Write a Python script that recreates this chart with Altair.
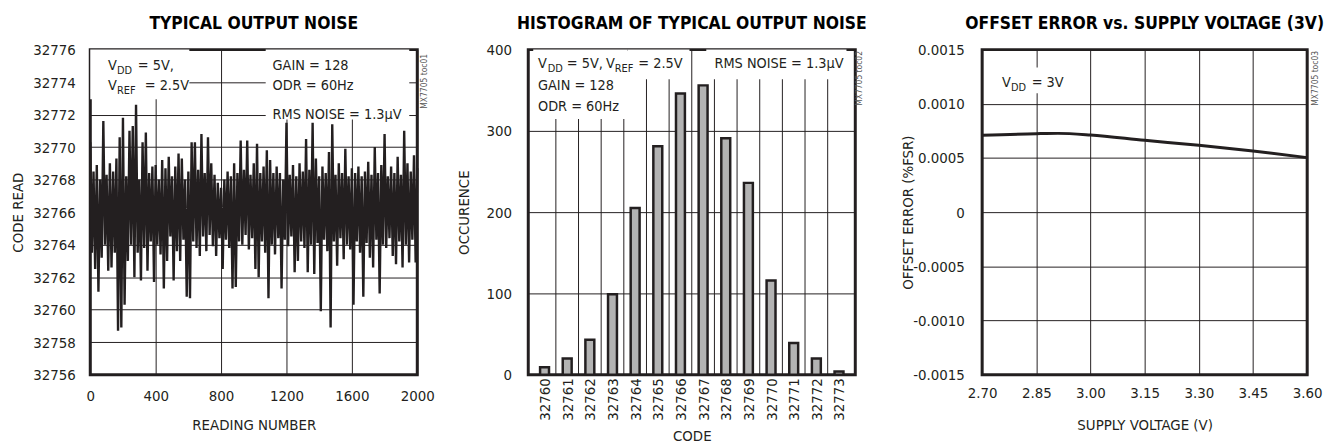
import altair as alt
import pandas as pd

FONT = "'Liberation Sans Narrow', 'Arial Narrow', 'DejaVu Sans Condensed', sans-serif"
TXT = "#231f20"

# ---------------- Panel 1: typical output noise ----------------
readings = list(range(0, 2001, 10))
noise_code = [
    32770.3, 32763.5, 32768.5, 32762.5, 32768.9, 32761.1, 32768.0, 32763.2, 32771.6, 32764.0,
    32768.3, 32762.4, 32769.0, 32762.6, 32768.5, 32763.5, 32769.3, 32758.7, 32770.6, 32758.9,
    32771.8, 32760.3, 32768.2, 32763.0, 32771.0, 32764.0, 32771.3, 32762.0, 32772.6, 32763.5,
    32768.0, 32761.8, 32770.3, 32763.8, 32770.9, 32762.4, 32768.4, 32764.2, 32768.8, 32761.7,
    32768.9, 32764.0, 32768.0, 32763.4, 32769.2, 32761.3, 32768.7, 32763.0, 32769.4, 32764.5,
    32768.2, 32761.8, 32768.8, 32763.6, 32769.6, 32763.0, 32769.3, 32764.3, 32768.0, 32760.8,
    32768.5, 32760.7, 32770.3, 32764.2, 32770.3, 32763.8, 32768.6, 32763.3, 32770.8, 32764.5,
    32768.4, 32763.6, 32770.6, 32764.6, 32769.0, 32763.9, 32768.3, 32763.3, 32767.8, 32764.4,
    32767.5, 32762.5, 32768.0, 32764.3, 32768.5, 32763.8, 32768.2, 32761.3, 32769.0, 32761.4,
    32768.4, 32764.2, 32770.4, 32764.0, 32768.6, 32764.6, 32770.4, 32763.7, 32768.3, 32764.4,
    32769.0, 32762.5, 32770.2, 32762.0, 32768.4, 32764.2, 32768.8, 32763.5, 32769.8, 32760.7,
    32769.2, 32764.0, 32768.4, 32763.4, 32768.8, 32764.4, 32768.4, 32761.3, 32768.0, 32764.3,
    32771.5, 32763.9, 32768.3, 32764.5, 32768.9, 32762.3, 32768.2, 32763.0, 32769.0, 32764.2,
    32768.5, 32763.8, 32770.5, 32762.3, 32768.6, 32764.0, 32771.5, 32762.2, 32769.3, 32764.1,
    32768.2, 32759.9, 32768.8, 32764.3, 32768.4, 32763.6, 32769.7, 32758.9, 32771.4, 32764.2,
    32768.3, 32762.7, 32769.0, 32764.4, 32768.4, 32763.1, 32769.9, 32764.0, 32768.2, 32763.7,
    32768.7, 32760.3, 32768.4, 32764.2, 32768.8, 32763.5, 32768.2, 32760.8, 32768.5, 32764.1,
    32769.1, 32763.2, 32768.3, 32762.6, 32770.0, 32764.3, 32768.4, 32761.0, 32768.9, 32764.0,
    32770.8, 32763.8, 32768.2, 32764.4, 32768.8, 32763.3, 32768.4, 32762.8, 32769.4, 32764.2,
    32768.3, 32762.6, 32771.0, 32764.0, 32769.0, 32762.9, 32768.5, 32764.3, 32769.5, 32762.9,
    32768.7,
]
p1_x_ticks = [0, 400, 800, 1200, 1600, 2000]
p1_y_ticks = list(range(32756, 32777, 2))

p1_main_text = ["V", "= 5V,", "V", "= 2.5V", "GAIN = 128", "ODR = 60Hz", "RMS NOISE = 1.3\u00b5V"]
p1_main_x = [109, 291, 109, 333, 1115, 1115, 1115]
p1_main_y = [32774.96, 32774.96, 32773.74, 32773.74, 32774.96, 32773.74, 32771.98]
p1_sub_text = ["DD", "REF"]
p1_sub_x = [164, 164]
p1_sub_y = [32774.96, 32773.74]
p1_box_x = [0, 1073]
p1_box_x2 = [606, 1951]
p1_box_y = [32772.95, 32771.7]
p1_box_y2 = [32776, 32776]

# ---------------- Panel 2: histogram ----------------
hist_code = [32760, 32761, 32762, 32763, 32764, 32765, 32766, 32767, 32768, 32769, 32770, 32771, 32772, 32773]
hist_count = [9, 20, 43, 99, 205, 281, 346, 356, 291, 236, 116, 39, 20, 4]
hist_grid = [32760.5, 32761.5, 32762.5, 32763.5, 32764.5, 32765.5, 32766.5,
             32767.5, 32768.5, 32769.5, 32770.5, 32771.5, 32772.5]
p2_y_ticks = [0, 100, 200, 300, 400]
p2_main_text = ["V", "= 5V,", "V", "= 2.5V", "GAIN = 128", "ODR = 60Hz"]
p2_main_x = [32759.71, 32760.98, 32762.71, 32764.14, 32759.71, 32759.71]
p2_main_y = [381.7, 381.7, 381.7, 381.7, 354.9, 329.3]
p2_sub_text = ["DD", "REF"]
p2_sub_x = [32760.14, 32763.10]
p2_sub_y = [381.7, 381.7]
p2_right_text = ["RMS NOISE = 1.3\u00b5V"]
p2_right_x = [32773.2]
p2_right_y = [381.7]
p2_box_x = [32759.5, 32763.66, 32767.14]
p2_box_x2 = [32763.66, 32766.40, 32773.33]
p2_box_y = [314.6, 363.4, 363.4]
p2_box_y2 = [400, 400, 400]

# ---------------- Panel 3: offset error vs supply ----------------
supply_v = [2.70, 2.85, 2.91, 3.00, 3.15, 3.30, 3.45, 3.60]
offset_err = [0.000709, 0.000724, 0.000727, 0.000712, 0.000663, 0.000617, 0.000564, 0.000503]
p3_x_ticks = [2.70, 2.85, 3.00, 3.15, 3.30, 3.45, 3.60]
p3_y_ticks = [-0.0015, -0.0010, -0.0005, 0.0, 0.0005, 0.0010, 0.0015]
p3_main_text = ["V", "= 3V"]
p3_main_x = [2.7549, 2.8372]
p3_main_y = [0.00119, 0.00119]
p3_sub_text = ["DD"]
p3_sub_x = [2.7796]
p3_sub_y = [0.00119]
p3_box_x = [2.7384]
p3_box_x2 = [2.925]
p3_box_y = [0.0010976]
p3_box_y2 = [0.001335]

code_labels = ["MX7705 toc01", "MX7705 toc02", "MX7705 toc03"]
code_label_x = [2042, 32773.88, 3.622]
code_label_y = [32774.05, 364.6, 0.001235]

W1, W2, W3, H = 330, 330, 328, 328
GAP12, GAP23 = 112, 128
FS = 14.5   # annotation font size
SUB = 11    # subscript font size


def xenc(field, domain, values, title, fmt, lpad, ext, tpad, angle=0, grid=True, lexpr=None):
    ax = dict(values=values, title=title, format=fmt, labelPadding=lpad, minExtent=ext,
              maxExtent=ext, titlePadding=tpad, labelAngle=angle, grid=grid, labelFlush=False)
    if lexpr:
        ax["labelExpr"] = lexpr
    return alt.X(f"{field}:Q", scale=alt.Scale(domain=domain, nice=False, zero=False), axis=alt.Axis(**ax))


def yenc(field, domain, values, title, fmt, lpad, ext, tpad, lexpr=None):
    ax = dict(values=values, title=title, format=fmt, labelPadding=lpad, minExtent=ext,
              maxExtent=ext, titlePadding=tpad, labelFlush=False)
    if lexpr:
        ax["labelExpr"] = lexpr
    return alt.Y(f"{field}:Q", scale=alt.Scale(domain=domain, nice=False, zero=False), axis=alt.Axis(**ax))


def text_layer(xs, ys, texts, X, Y, size=FS, dy=0, align="left", angle=0, color=TXT):
    df = pd.DataFrame({"x": xs, "y": ys, "t": texts})
    kw = dict(font=FONT, fontSize=size, dy=dy, align=align, baseline="middle", color=color)
    if angle:
        kw["angle"] = angle
    return alt.Chart(df).mark_text(**kw).encode(x=X("x"), y=Y("y"), text="t:N")


def box_layer(x, x2, y, y2, X, Y):
    df = pd.DataFrame({"x": x, "x2": x2, "y": y, "y2": y2})
    return alt.Chart(df).mark_rect(fill="white").encode(x=X("x"), x2="x2", y=Y("y"), y2="y2")


def spacer(w):
    df = pd.DataFrame({"a": [0]})
    return alt.Chart(df).mark_point(opacity=0).encode(
        x=alt.X("a:Q", axis=None), y=alt.Y("a:Q", axis=None)
    ).properties(width=w, height=H, view=alt.ViewBackground(strokeOpacity=0))


TITLE_KW = dict(offset=10, frame="group")

# Panel 1
X1 = lambda f: xenc(f, [0, 2000], p1_x_ticks, "READING NUMBER", "d", 14, 30, 13)
Y1 = lambda f: yenc(f, [32756, 32776], p1_y_ticks, "CODE READ", "d", 15, 50, 15)
df1 = pd.DataFrame({"x": readings, "y": noise_code})
p1 = alt.layer(
    box_layer(p1_box_x, p1_box_x2, p1_box_y, p1_box_y2, X1, Y1),
    alt.Chart(df1).mark_line(color=TXT, strokeWidth=2.4, strokeJoin="bevel").encode(x=X1("x"), y=Y1("y")),
    text_layer(p1_main_x, p1_main_y, p1_main_text, X1, Y1),
    text_layer(p1_sub_x, p1_sub_y, p1_sub_text, X1, Y1, SUB, dy=5),
    text_layer([code_label_x[0]], [code_label_y[0]], [code_labels[0]], X1, Y1, 8.5, align="center", angle=270, color="#555"),
).properties(width=W1, height=H, title=alt.Title("TYPICAL OUTPUT NOISE", **TITLE_KW))

# Panel 2
X2 = lambda f: xenc(f, [32759.5, 32773.5], hist_code, "CODE", "d", 3, 48, 6, angle=270, grid=False)
Y2 = lambda f: yenc(f, [0, 400], p2_y_ticks, "OCCURENCE", "d", 17, 45, 12)
df2 = pd.DataFrame({"x": hist_code, "y": hist_count})
dfg = pd.DataFrame({"x": hist_grid})
p2 = alt.layer(
    alt.Chart(dfg).mark_rule(color=TXT, strokeWidth=1).encode(x=X2("x")),
    box_layer(p2_box_x, p2_box_x2, p2_box_y, p2_box_y2, X2, Y2),
    alt.Chart(df2).mark_bar(size=9, fill="#b3b3b3", stroke=TXT, strokeWidth=2.5).encode(x=X2("x"), y=Y2("y")),
    text_layer(p2_main_x, p2_main_y, p2_main_text, X2, Y2),
    text_layer(p2_sub_x, p2_sub_y, p2_sub_text, X2, Y2, SUB, dy=5),
    text_layer(p2_right_x, p2_right_y, p2_right_text, X2, Y2, align="right"),
    text_layer([code_label_x[1]], [code_label_y[1]], [code_labels[1]], X2, Y2, 8.5, align="center", angle=270, color="#555"),
).properties(width=W2, height=H, title=alt.Title("HISTOGRAM OF TYPICAL OUTPUT NOISE", **TITLE_KW))

# Panel 3
X3 = lambda f: xenc(f, [2.7, 3.6], p3_x_ticks, "SUPPLY VOLTAGE (V)", ".2f", 11, 30, 13)
Y3 = lambda f: yenc(f, [-0.0015, 0.0015], p3_y_ticks, "OFFSET ERROR (%FSR)", ".4f", 18, 55, 12,
                    lexpr="datum.value == 0 ? '0' : (datum.value < 0 ? '-' : '') + format(abs(datum.value), '.4f')")
df3 = pd.DataFrame({"x": supply_v, "y": offset_err})
p3 = alt.layer(
    box_layer(p3_box_x, p3_box_x2, p3_box_y, p3_box_y2, X3, Y3),
    alt.Chart(df3).mark_line(color=TXT, strokeWidth=3, interpolate="monotone").encode(x=X3("x"), y=Y3("y")),
    text_layer(p3_main_x, p3_main_y, p3_main_text, X3, Y3),
    text_layer(p3_sub_x, p3_sub_y, p3_sub_text, X3, Y3, SUB, dy=5),
    text_layer([code_label_x[2]], [code_label_y[2]], [code_labels[2]], X3, Y3, 8.5, align="center", angle=270, color="#555"),
).properties(width=W3, height=H, title=alt.Title("OFFSET ERROR vs. SUPPLY VOLTAGE (3V)", **TITLE_KW))

chart = alt.hconcat(
    p1, spacer(GAP12), p2, spacer(GAP23), p3, spacing=0, bounds="flush"
).properties(
    padding={"left": 1, "top": 4, "right": 0, "bottom": 0}
).configure_view(
    stroke=TXT, strokeWidth=3
).configure_axis(
    labelFont=FONT, labelFontSize=15, labelColor=TXT,
    titleFont=FONT, titleFontSize=15, titleFontWeight="normal", titleColor=TXT,
    gridColor=TXT, gridOpacity=1, gridWidth=1, domain=False, ticks=False, labelFlush=False,
).configure_title(
    font=FONT, fontSize=17.5, fontWeight="bold", color="#000", anchor="middle"
)

chart.save("out.html", embed_options={"renderer": "svg", "actions": False})
